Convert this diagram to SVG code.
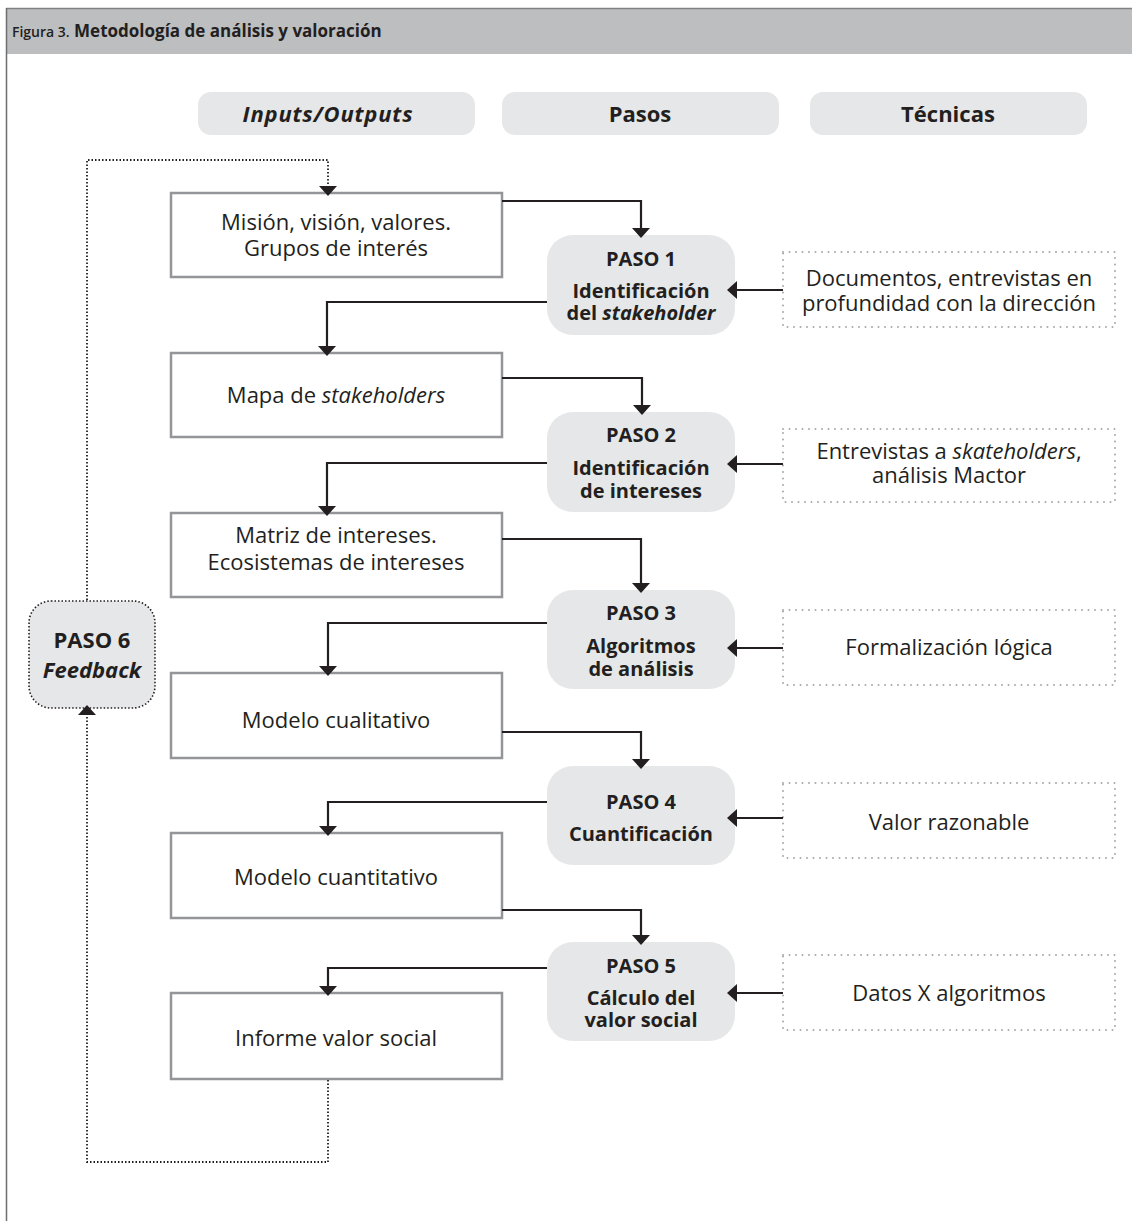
<svg xmlns="http://www.w3.org/2000/svg" width="1132" height="1221" viewBox="0 0 1132 1221">
  <style>
    .t { font-family: "Open Sans", "Noto Sans", "Liberation Sans", sans-serif; fill: #231f20; text-anchor: middle; }
    .r { font-size: 22px; }
    .b { font-size: 20px; font-weight: 700; }
    .h { font-size: 22px; font-weight: 700; }
    .i { font-style: italic; }
    .io { fill: #ffffff; stroke: #939598; stroke-width: 2.5; }
    .paso { fill: #e6e7e8; }
    .pill { fill: #e6e7e8; }
    .tec { fill: #ffffff; stroke: #a7a9ac; stroke-width: 2; stroke-dasharray: 0 6.5; stroke-linecap: round; }
    .wire { fill: none; stroke: #231f20; stroke-width: 2.2; }
    .fb { fill: none; stroke: #231f20; stroke-width: 1.8; stroke-dasharray: 1.5 2; }
  </style>
  <defs>
    <marker id="ah" viewBox="0 0 10 18" refX="6" refY="9" markerWidth="10" markerHeight="18" markerUnits="userSpaceOnUse" orient="auto">
      <path d="M0,0 L10,9 L0,18 z" fill="#231f20"/>
    </marker>
  </defs>

  <rect width="1132" height="1221" fill="#ffffff"/>

  <!-- title band and page frame -->
  <g id="header">
    <rect x="6" y="8" width="1126" height="46" fill="#bcbec0"/>
    <line x1="6" y1="8.5" x2="1132" y2="8.5" stroke="#808285" stroke-width="1.5"/>
    <line x1="6.5" y1="8" x2="6.5" y2="1221" stroke="#6d6e71" stroke-width="1.5"/>
    <text x="12" y="37" style="font-family: 'Open Sans', 'Noto Sans', sans-serif; fill: #231f20;"><tspan font-size="14" font-weight="600">Figura 3.</tspan><tspan font-size="17" font-weight="700"> Metodología de análisis y valoración</tspan></text>
  </g>

  <!-- column headings -->
  <g id="col-inputs">
    <rect class="pill" x="198" y="92" width="277" height="43" rx="13"/>
    <text class="t h i" x="328" y="122" letter-spacing="0.8">Inputs/Outputs</text>
  </g>
  <g id="col-pasos">
    <rect class="pill" x="502" y="92" width="277" height="43" rx="13"/>
    <text class="t h" x="640" y="122">Pasos</text>
  </g>
  <g id="col-tecnicas">
    <rect class="pill" x="810" y="92" width="277" height="43" rx="13"/>
    <text class="t h" x="948" y="122">Técnicas</text>
  </g>

  <!-- inputs / outputs -->
  <g id="io-mision">
    <rect class="io" x="171" y="193" width="331" height="84"/>
    <text class="t r" x="336" y="230">Misión, visión, valores.<tspan x="336" dy="26">Grupos de interés</tspan></text>
  </g>
  <g id="io-mapa">
    <rect class="io" x="171" y="353" width="331" height="84"/>
    <text class="t r" x="336" y="403">Mapa de <tspan class="i">stakeholders</tspan></text>
  </g>
  <g id="io-matriz">
    <rect class="io" x="171" y="513" width="331" height="84"/>
    <text class="t r" x="336" y="543">Matriz de intereses.<tspan x="336" dy="27">Ecosistemas de intereses</tspan></text>
  </g>
  <g id="io-cualitativo">
    <rect class="io" x="171" y="673" width="331" height="85"/>
    <text class="t r" x="336" y="728">Modelo cualitativo</text>
  </g>
  <g id="io-cuantitativo">
    <rect class="io" x="171" y="833" width="331" height="85"/>
    <text class="t r" x="336" y="885">Modelo cuantitativo</text>
  </g>
  <g id="io-informe">
    <rect class="io" x="171" y="993" width="331" height="86"/>
    <text class="t r" x="336" y="1046">Informe valor social</text>
  </g>

  <!-- steps -->
  <g id="paso1">
    <rect class="paso" x="547" y="235" width="188" height="100" rx="26"/>
    <text class="t b" x="641" y="266">PASO 1<tspan x="641" dy="32">Identificación</tspan><tspan x="641" dy="22">del <tspan class="i">stakeholder</tspan></tspan></text>
  </g>
  <g id="paso2">
    <rect class="paso" x="547" y="412" width="188" height="100" rx="26"/>
    <text class="t b" x="641" y="442">PASO 2<tspan x="641" dy="33">Identificación</tspan><tspan x="641" dy="23">de intereses</tspan></text>
  </g>
  <g id="paso3">
    <rect class="paso" x="547" y="590" width="188" height="99" rx="26"/>
    <text class="t b" x="641" y="620">PASO 3<tspan x="641" dy="33">Algoritmos</tspan><tspan x="641" dy="23">de análisis</tspan></text>
  </g>
  <g id="paso4">
    <rect class="paso" x="547" y="766" width="188" height="99" rx="26"/>
    <text class="t b" x="641" y="809">PASO 4<tspan x="641" dy="32">Cuantificación</tspan></text>
  </g>
  <g id="paso5">
    <rect class="paso" x="547" y="942" width="188" height="99" rx="26"/>
    <text class="t b" x="641" y="973">PASO 5<tspan x="641" dy="32">Cálculo del</tspan><tspan x="641" dy="22">valor social</tspan></text>
  </g>
  <g id="paso6">
    <rect x="29" y="601" width="126" height="107" rx="22" fill="#e6e7e8" stroke="#231f20" stroke-width="1.6" stroke-dasharray="1.5 2"/>
    <text class="t h" x="92" y="648">PASO 6<tspan class="i" x="92" dy="30">Feedback</tspan></text>
  </g>

  <!-- techniques -->
  <g id="tec1">
    <rect class="tec" x="783" y="252" width="332" height="75"/>
    <text class="t r" x="949" y="286">Documentos, entrevistas en<tspan x="949" dy="25">profundidad con la dirección</tspan></text>
  </g>
  <g id="tec2">
    <rect class="tec" x="783" y="429" width="332" height="73"/>
    <text class="t r" x="949" y="459">Entrevistas a <tspan class="i">skateholders</tspan>,<tspan x="949" dy="24">análisis Mactor</tspan></text>
  </g>
  <g id="tec3">
    <rect class="tec" x="783" y="610" width="332" height="75"/>
    <text class="t r" x="949" y="655">Formalización lógica</text>
  </g>
  <g id="tec4">
    <rect class="tec" x="783" y="783" width="332" height="75"/>
    <text class="t r" x="949" y="830">Valor razonable</text>
  </g>
  <g id="tec5">
    <rect class="tec" x="783" y="955" width="332" height="75"/>
    <text class="t r" x="949" y="1001">Datos X algoritmos</text>
  </g>

  <!-- connectors -->
  <g id="connectors">
    <path class="wire" d="M502,201 H641 V234" marker-end="url(#ah)"/>
    <path class="wire" d="M547,302 H327 V352" marker-end="url(#ah)"/>
    <path class="wire" d="M502,378 H642 V411" marker-end="url(#ah)"/>
    <path class="wire" d="M547,463 H327 V512" marker-end="url(#ah)"/>
    <path class="wire" d="M502,539 H641 V589" marker-end="url(#ah)"/>
    <path class="wire" d="M547,623 H328 V672" marker-end="url(#ah)"/>
    <path class="wire" d="M502,732 H641 V765" marker-end="url(#ah)"/>
    <path class="wire" d="M547,802 H328 V832" marker-end="url(#ah)"/>
    <path class="wire" d="M502,910 H641 V941" marker-end="url(#ah)"/>
    <path class="wire" d="M547,968 H328 V992" marker-end="url(#ah)"/>

    <path class="wire" d="M783,290 H731" marker-end="url(#ah)"/>
    <path class="wire" d="M783,464 H731" marker-end="url(#ah)"/>
    <path class="wire" d="M783,648 H731" marker-end="url(#ah)"/>
    <path class="wire" d="M783,818 H731" marker-end="url(#ah)"/>
    <path class="wire" d="M783,993 H731" marker-end="url(#ah)"/>

    <!-- feedback loop -->
    <path class="fb" d="M328,1080 V1162 H87 V709" marker-end="url(#ah)"/>
    <path class="fb" d="M87,600 V160 H328 V192" marker-end="url(#ah)"/>
  </g>
</svg>
